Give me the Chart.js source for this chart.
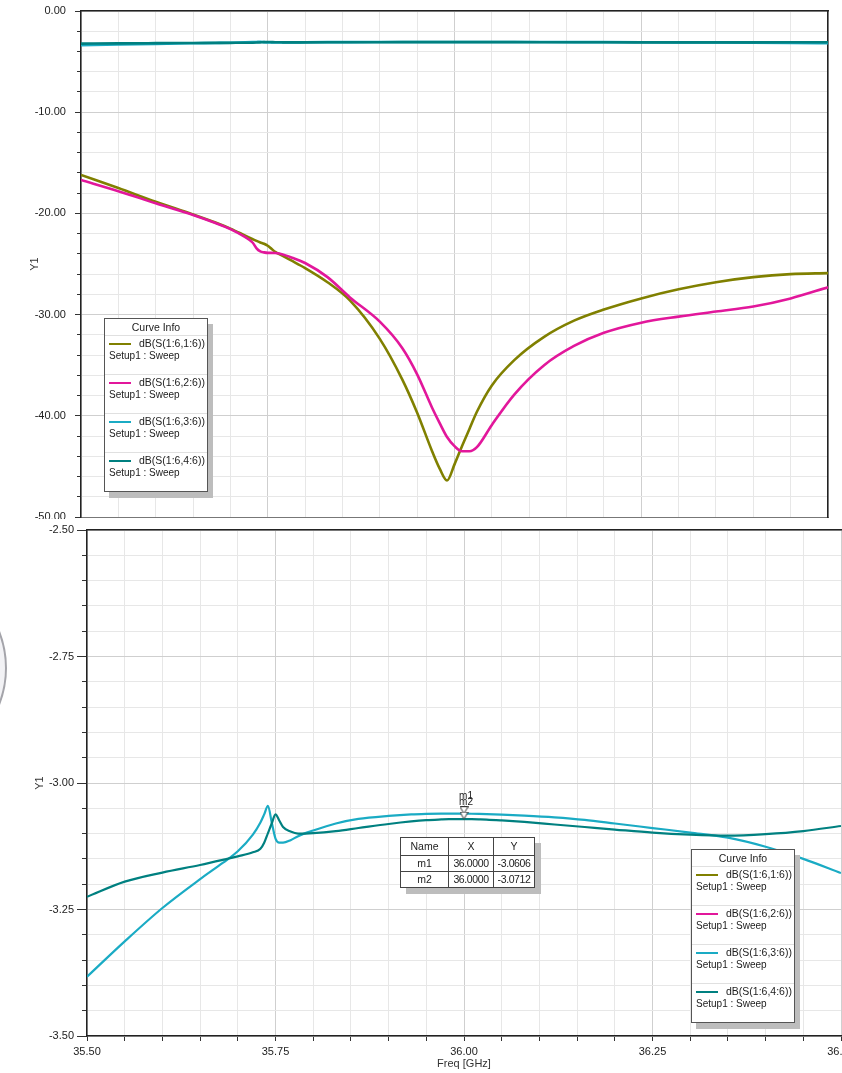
<!DOCTYPE html>
<html><head><meta charset="utf-8">
<script src="https://cdn.jsdelivr.net/npm/chart.js@4.4.1/dist/chart.umd.min.js"></script>
<style>
html,body{margin:0;padding:0;background:#fff;}
body{width:842px;height:1073px;overflow:hidden;position:relative;font-family:'Liberation Sans',Arial,sans-serif;color:#222;}
#wrapTop{position:absolute;left:0;top:0;width:842px;height:530px;z-index:1;}
#wrapBot{position:absolute;left:0;top:519px;width:900px;height:554px;background:#fff;z-index:3;}
canvas{display:block;}
.legend{position:absolute;width:102px;height:172px;border:1px solid #555;background:#fff;box-shadow:5px 6px 0 #bdbdbd;}
.legend .hdr{height:16px;line-height:16px;text-align:center;font-size:10.5px;border-bottom:1px solid #e0e0e0;}
.legend .item{height:38px;border-bottom:1px solid #e0e0e0;position:relative;}
.legend .item:last-child{border-bottom:none;}
.legend .sw{position:absolute;left:4px;top:7px;width:22px;height:2px;}
.legend .nm{position:absolute;left:34px;top:1px;line-height:13px;font-size:10.5px;white-space:nowrap;}
.legend .sub{position:absolute;left:4px;top:13px;line-height:13px;font-size:10px;white-space:nowrap;}
#legTop{left:104px;top:318px;z-index:2;}
#legBot{left:691px;top:849px;z-index:4;}
#mtable{position:absolute;left:400px;top:837px;border-collapse:collapse;background:#fff;box-shadow:6px 6px 0 #bdbdbd;z-index:4;font-size:10.5px;}
#mtable th,#mtable td{border:1px solid #444;padding:0;text-align:center;font-weight:normal;}
#mtable th{height:17px;line-height:17px;}
#mtable td{height:15px;line-height:15px;}
#mtable .num{letter-spacing:-0.4px;}
#blob{position:absolute;left:-195px;top:567px;width:198px;height:198px;border-radius:50%;border:2px solid #a4a4aa;background:#f2f2f5;z-index:5;}
</style>
</head><body>
<div id="wrapTop"><canvas id="cTop" width="842" height="530"></canvas></div>
<div id="wrapBot"><canvas id="cBot" width="900" height="554"></canvas></div>
<div id="legTop" class="legend"></div>
<div id="legBot" class="legend"></div>
<table id="mtable"></table>
<div id="blob"></div>
<script>
// ---- data ----
const freq = [35.50, 35.55, 35.60, 35.65, 35.68, 35.70, 35.72, 35.73, 35.735, 35.74,
              35.745, 35.75, 35.755, 35.76, 35.77, 35.78, 35.80, 35.83, 35.86, 35.90,
              35.93, 35.95, 35.97, 35.98, 35.99, 36.00, 36.01, 36.02, 36.03, 36.05,
              36.08, 36.12, 36.16, 36.20, 36.25, 36.30, 36.35, 36.40, 36.45, 36.50];
const s11 = [-16.2, -17.5, -18.85, -20.1, -20.9, -21.5, -22.2, -22.55, -22.72, -22.87,
             -23.0, -23.2, -23.5, -23.8, -24.2, -24.6, -25.4, -26.8, -28.6, -32.4,
             -36.4, -39.7, -43.5, -45.2, -46.4, -44.8, -43.0, -41.3, -39.6, -37.0,
             -34.5, -32.2, -30.6, -29.5, -28.4, -27.5, -26.8, -26.3, -26.0, -25.9];
const s22 = [-16.7, -17.8, -19.0, -20.15, -20.95, -21.55, -22.35, -22.9, -23.45, -23.75,
             -23.85, -23.9, -23.9, -23.92, -24.05, -24.3, -24.9, -26.3, -28.3, -30.7,
             -33.3, -35.9, -39.2, -40.7, -42.1, -43.0, -43.5, -43.5, -43.1, -40.9,
             -37.9, -35.0, -33.1, -31.8, -30.8, -30.2, -29.7, -29.2, -28.4, -27.3];
const s33 = [-3.383, -3.313, -3.247, -3.190, -3.158, -3.135, -3.102, -3.078, -3.062, -3.045,
             -3.078, -3.110, -3.118, -3.118, -3.113, -3.105, -3.094, -3.080, -3.071, -3.065,
             -3.062, -3.061, -3.0605, -3.0604, -3.0604, -3.0606, -3.0608, -3.0611, -3.0615, -3.0625,
             -3.0645, -3.068, -3.073, -3.080, -3.089, -3.098, -3.108, -3.126, -3.150, -3.178];
const s44 = [-3.225, -3.195, -3.177, -3.162, -3.152, -3.145, -3.137, -3.130, -3.118, -3.099,
             -3.080, -3.062, -3.074, -3.087, -3.096, -3.100, -3.099, -3.095, -3.089, -3.081,
             -3.076, -3.0735, -3.072, -3.0714, -3.0712, -3.0712, -3.0714, -3.0718, -3.0723, -3.074,
             -3.077, -3.082, -3.087, -3.092, -3.098, -3.102, -3.104, -3.101, -3.095, -3.085];
const seriesNames = ['dB(S(1:6,1:6))', 'dB(S(1:6,2:6))', 'dB(S(1:6,3:6))', 'dB(S(1:6,4:6))'];
const seriesSub = 'Setup1 : Sweep';
const seriesColors = ['#808000', '#e2179b', '#1aabc4', '#008080'];
const markerNames = ['m1', 'm2'];
const markerX = [36.0, 36.0];
const markerY = [-3.0606, -3.0712];
const xRange = [35.5, 36.5];
const topYRange = [-50, 0];
const botYRange = [-3.5, -2.5];

// ---- helpers ----
Chart.defaults.font.family = "'Liberation Sans', Arial, sans-serif";
Chart.defaults.font.size = 11;
Chart.defaults.color = '#222';
Chart.defaults.animation = false;

const isMult = (v, m) => Math.abs(v / m - Math.round(v / m)) < 1e-6;
const gridCol = (m) => (c) => (c.tick && isMult(c.tick.value, m)) ? '#cfcfcf' : '#e7e7e7';
const seriesList = [s11, s22, s33, s44];

function makeDatasets(lw) {
  return seriesList.map((arr, i) => ({
    label: seriesNames[i],
    data: freq.map((f, j) => ({x: f, y: arr[j]})),
    borderColor: seriesColors[i],
    backgroundColor: seriesColors[i],
    borderWidth: lw,
    pointRadius: 0,
    cubicInterpolationMode: 'monotone',
    fill: false,
    order: 4 - i,
    xAxisID: 'x', yAxisID: 'y'
  }));
}

function yAxes(range, majStep, minStep, majTick, minTick, labSuffix, titlePad, width, rightBorder) {
  const s = {
    yMaj: {
      type: 'linear', position: 'left', min: range[0], max: range[1], weight: 1,
      ticks: {stepSize: majStep, padding: 3, color: '#222', callback: v => Number(v).toFixed(2) + labSuffix},
      grid: {drawOnChartArea: false, tickLength: majTick, tickColor: '#333'},
      border: {display: false},
      title: {display: true, text: 'Y1', color: '#333', font: {size: 11}, padding: {top: titlePad, bottom: 0}},
      afterFit: sc => { sc.width = width; }
    },
    y: {
      type: 'linear', position: 'left', min: range[0], max: range[1], weight: 0,
      ticks: {display: false, stepSize: minStep},
      grid: {color: gridCol(majStep), tickLength: minTick, tickColor: '#333', lineWidth: 1},
      border: {display: true, color: '#222', width: 1.5},
      afterFit: sc => { sc.width = 0; }
    }
  };
  if (rightBorder) {
    s.yRight = {
      type: 'linear', position: 'right', min: range[0], max: range[1],
      ticks: {display: false}, grid: {display: false},
      border: {display: true, color: '#222', width: 1.5},
      afterFit: sc => { sc.width = 0; }
    };
  }
  return s;
}

const topBorderAxis = {
  type: 'linear', position: 'top', min: xRange[0], max: xRange[1],
  ticks: {display: false}, grid: {display: false},
  border: {display: true, color: '#222', width: 1.5},
  afterFit: sc => { sc.height = 0; }
};

// ---- top chart ----
new Chart(document.getElementById('cTop'), {
  type: 'line',
  data: {datasets: makeDatasets(2.6)},
  options: {
    responsive: false,
    layout: {padding: {left: 0, top: 11, right: 14, bottom: 0}},
    plugins: {legend: {display: false}, tooltip: {enabled: false}},
    scales: Object.assign({
      x: {
        type: 'linear', position: 'bottom', min: xRange[0], max: xRange[1],
        ticks: {display: false, stepSize: 0.05},
        grid: {color: gridCol(0.25), drawTicks: false},
        border: {display: true, color: '#777', width: 1},
        afterFit: sc => { sc.height = 13; }
      },
      xTop: topBorderAxis
    }, yAxes(topYRange, 10, 2, 6, 4, '  ', 28, 81, true))
  }
});

// ---- bottom chart ----
const triImg = document.createElement('canvas');
triImg.width = 9; triImg.height = 15;
(function () {
  const c = triImg.getContext('2d');
  c.beginPath(); c.moveTo(0.5, 0.5); c.lineTo(8.5, 0.5); c.lineTo(4.5, 7.5); c.closePath();
  c.fillStyle = '#fff'; c.fill(); c.strokeStyle = '#333'; c.lineWidth = 1; c.stroke();
})();

const markerLabelPlugin = {
  id: 'markerLabels',
  afterDatasetsDraw(chart) {
    const {ctx} = chart; const x = chart.scales.x, y = chart.scales.y;
    ctx.save();
    ctx.font = "10px 'Liberation Sans', Arial, sans-serif";
    ctx.fillStyle = '#222'; ctx.textAlign = 'center'; ctx.textBaseline = 'middle';
    markerNames.forEach((n, i) => {
      ctx.fillText(n, x.getPixelForValue(markerX[i]) + 2, y.getPixelForValue(markerY[i]) - 17);
    });
    ctx.restore();
  }
};

const botSets = makeDatasets(2.2);
botSets.push({
  label: 'markers',
  data: markerX.map((v, i) => ({x: v, y: markerY[i]})),
  showLine: false,
  pointStyle: triImg,
  pointRadius: 4,
  order: 0,
  xAxisID: 'x', yAxisID: 'y'
});

new Chart(document.getElementById('cBot'), {
  type: 'line',
  data: {datasets: botSets},
  options: {
    responsive: false,
    layout: {padding: {left: 0, top: 11, right: 59, bottom: 0}},
    plugins: {legend: {display: false}, tooltip: {enabled: false}},
    scales: Object.assign({
      x: {
        type: 'linear', position: 'bottom', min: xRange[0], max: xRange[1],
        ticks: {stepSize: 0.05, padding: 4, color: '#222', maxRotation: 0, autoSkip: false,
                callback: v => isMult(v, 0.25) ? Number(v).toFixed(2) : ''},
        grid: {color: gridCol(0.25), tickLength: 5, tickColor: '#333'},
        border: {display: true, color: '#222', width: 1.5},
        title: {display: true, text: 'Freq [GHz]', color: '#333', font: {size: 11}, padding: {top: 0, bottom: 2}},
        afterFit: sc => { sc.height = 37; }
      },
      xTop: topBorderAxis
    }, yAxes(botYRange, 0.25, 0.05, 10, 5, '', 33, 87, false))
  },
  plugins: [markerLabelPlugin]
});

// ---- legends & marker table (HTML text) ----
function buildLegend(el) {
  let h = '<div class="hdr">Curve Info</div>';
  seriesNames.forEach((n, i) => {
    h += '<div class="item"><span class="sw" style="background:' + seriesColors[i] + '"></span>' +
         '<span class="nm">' + n + '</span><span class="sub">' + seriesSub + '</span></div>';
  });
  el.innerHTML = h;
}
buildLegend(document.getElementById('legTop'));
buildLegend(document.getElementById('legBot'));

(function () {
  let h = '<tr><th style="width:47px">Name</th><th style="width:44px">X</th><th style="width:40px">Y</th></tr>';
  markerNames.forEach((n, i) => {
    h += '<tr><td>' + n + '</td><td class="num">' + markerX[i].toFixed(4) + '</td><td class="num">' +
         markerY[i].toFixed(4) + '</td></tr>';
  });
  document.getElementById('mtable').innerHTML = h;
})();
</script>
</body></html>
